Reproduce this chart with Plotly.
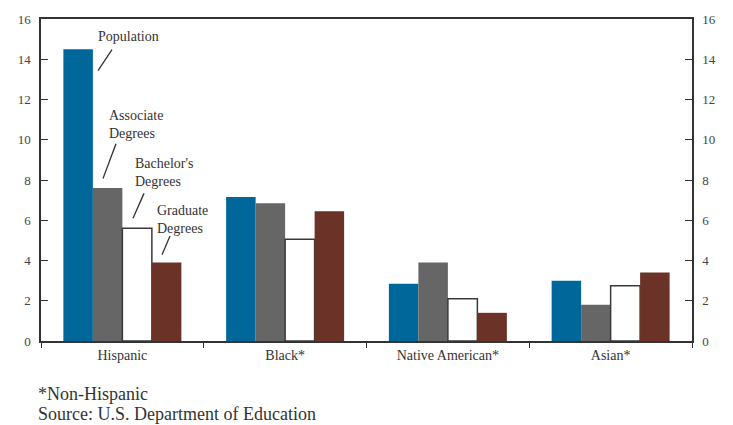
import plotly.graph_objects as go

# Share of each group (percent): population vs. degrees conferred
groups = ["Hispanic", "Black*", "Native American*", "Asian*"]
population = [14.5, 7.15, 2.85, 3.0]
associate = [7.6, 6.85, 3.9, 1.8]
bachelors = [5.6, 5.05, 2.1, 2.75]
graduate = [3.9, 6.45, 1.4, 3.4]

series = [
    ("Population", population, "#00679a", "#00679a", 0),
    ("Associate Degrees", associate, "#666666", "#666666", 0),
    ("Bachelor's Degrees", bachelors, "#ffffff", "#3a3a3a", 1.5),
    ("Graduate Degrees", graduate, "#6b3327", "#6b3327", 0),
]

W, H = 733, 425
L, R, T, B = 41, 41, 16, 84
PW, PH = W - L - R, H - T - B

FONT = "Liberation Serif"
INK = "#333333"


def px(x):
    return (x - L) / PW


def py(y):
    return (H - B - y) / PH


fig = go.Figure()
for name, vals, fill, edge, lw in series:
    fig.add_trace(go.Bar(
        name=name, x=groups, y=vals,
        marker=dict(color=fill, line=dict(color=edge, width=lw)),
        showlegend=False,
    ))

# empty trace so the mirrored right-hand value axis is drawn
fig.add_trace(go.Scatter(x=groups, y=[None] * len(groups), yaxis="y2",
                         showlegend=False, hoverinfo="skip"))

# series labels with leader lines
labels = [
    ("Population", 96, 34, (98, 68, 112, 47)),
    ("Associate<br>Degrees", 107, 122.5, (103, 177, 116, 142)),
    ("Bachelor's<br>Degrees", 133, 170.5, (133, 217, 144, 192)),
    ("Graduate<br>Degrees", 155, 218.5, (162, 254, 170, 235)),
]
annotations = []
shapes = []
for text, lx, ly, (x0, y0, x1, y1) in labels:
    annotations.append(dict(
        text=text, x=px(lx), y=py(ly), xref="paper", yref="paper",
        xanchor="left", yanchor="middle", align="left", showarrow=False,
        font=dict(family=FONT, size=14, color=INK),
    ))
    shapes.append(dict(
        type="line", xref="paper", yref="paper",
        x0=px(x0), y0=py(y0), x1=px(x1), y1=py(y1),
        line=dict(color=INK, width=1.3),
    ))

for text, ly in [("*Non-Hispanic", 394), ("Source: U.S. Department of Education", 415)]:
    annotations.append(dict(
        text=text, x=px(37), y=py(ly), xref="paper", yref="paper",
        xanchor="left", yanchor="middle", showarrow=False, borderpad=0,
        font=dict(family=FONT, size=18, color=INK),
    ))

yaxis_common = dict(
    range=[0, 16], dtick=2, ticks="inside", ticklen=7, tickwidth=1.2,
    tickcolor=INK, showline=True, linecolor=INK, linewidth=1.5,
    showgrid=False, zeroline=False, ticklabelstandoff=6,
    tickfont=dict(family=FONT, size=13, color="#444444"),
)

fig.update_layout(
    width=W, height=H,
    margin=dict(l=L, r=R, t=T, b=B),
    paper_bgcolor="white", plot_bgcolor="white",
    font=dict(family=FONT, color=INK),
    barmode="group", bargap=0.275, bargroupgap=0,
    xaxis=dict(
        type="category", categoryorder="array", categoryarray=groups,
        tickson="boundaries", ticks="outside", ticklen=5, tickwidth=1.2,
        tickcolor=INK, showline=True, linecolor=INK, linewidth=2,
        mirror=True, showgrid=False,
        tickfont=dict(family=FONT, size=14, color=INK),
    ),
    yaxis=dict(side="left", **yaxis_common),
    yaxis2=dict(side="right", overlaying="y", **yaxis_common),
    annotations=annotations,
    shapes=shapes,
)

fig.write_html("out.html")
